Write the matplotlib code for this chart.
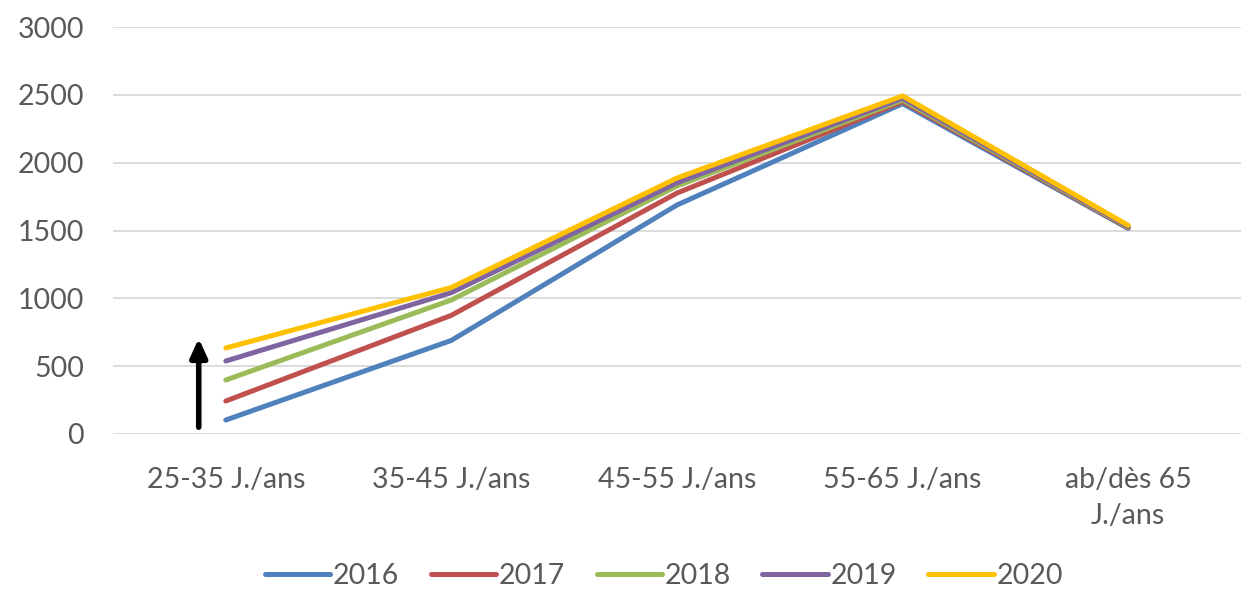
import numpy as np
import matplotlib
matplotlib.use("Agg")
import matplotlib.pyplot as plt

categories = ["25-35 J./ans", "35-45 J./ans", "45-55 J./ans", "55-65 J./ans", "ab/dès 65\nJ./ans"]
years = ["2016", "2017", "2018", "2019", "2020"]
v2016 = [103, 690, 1688, 2435, 1515]
v2017 = [243, 875, 1776, 2450, 1520]
v2018 = [398, 988, 1828, 2462, 1525]
v2019 = [538, 1042, 1852, 2475, 1530]
v2020 = [634, 1080, 1887, 2492, 1538]
colors = ["#4F81BD", "#C0504D", "#9BBB59", "#8064A2", "#FFC000"]

plt.rcParams['font.family'] = ['Lato', 'DejaVu Sans']
grey = "#595959"
fs = 20.5

fig = plt.figure(figsize=(12.41, 5.89), dpi=100)
ax = fig.add_axes([113/1241, 1 - 434/589, (1241 - 113)/1241, (434 - 27)/589])

x = np.arange(len(categories))
for vals, yr, c in zip([v2016, v2017, v2018, v2019, v2020], years, colors):
    ax.plot(x, vals, color=c, lw=3.6, solid_capstyle='round', solid_joinstyle='miter', label=yr)

# arrow showing the increase
ax.annotate("", xy=(-0.12, 705), xytext=(-0.12, 50),
            arrowprops=dict(arrowstyle="-|>,head_width=0.5,head_length=1.1", color="black", lw=4,
                            shrinkA=0, shrinkB=0))

ax.set_xlim(-0.5, 4.5)
ax.set_ylim(0, 3000)
ax.set_yticks(range(0, 3001, 500))
ax.set_xticks(x)
ax.set_xticklabels(categories, fontsize=fs, color=grey, linespacing=1.45)
ax.tick_params(axis='y', labelsize=fs, labelcolor=grey, length=0, pad=21)
ax.tick_params(axis='x', length=0, pad=24)
ax.grid(axis='y', color="#D9D9D9", lw=1.3)
ax.set_axisbelow(True)
for s in ax.spines.values():
    s.set_visible(False)

leg = fig.legend(loc='center', bbox_to_anchor=(0.535, 1 - 576/589), ncol=5, frameon=False,
                 fontsize=fs, handlelength=2.3, columnspacing=1.1, handletextpad=0.1)
for t in leg.get_texts():
    t.set_color(grey)

fig.savefig("out.png", dpi=100)
